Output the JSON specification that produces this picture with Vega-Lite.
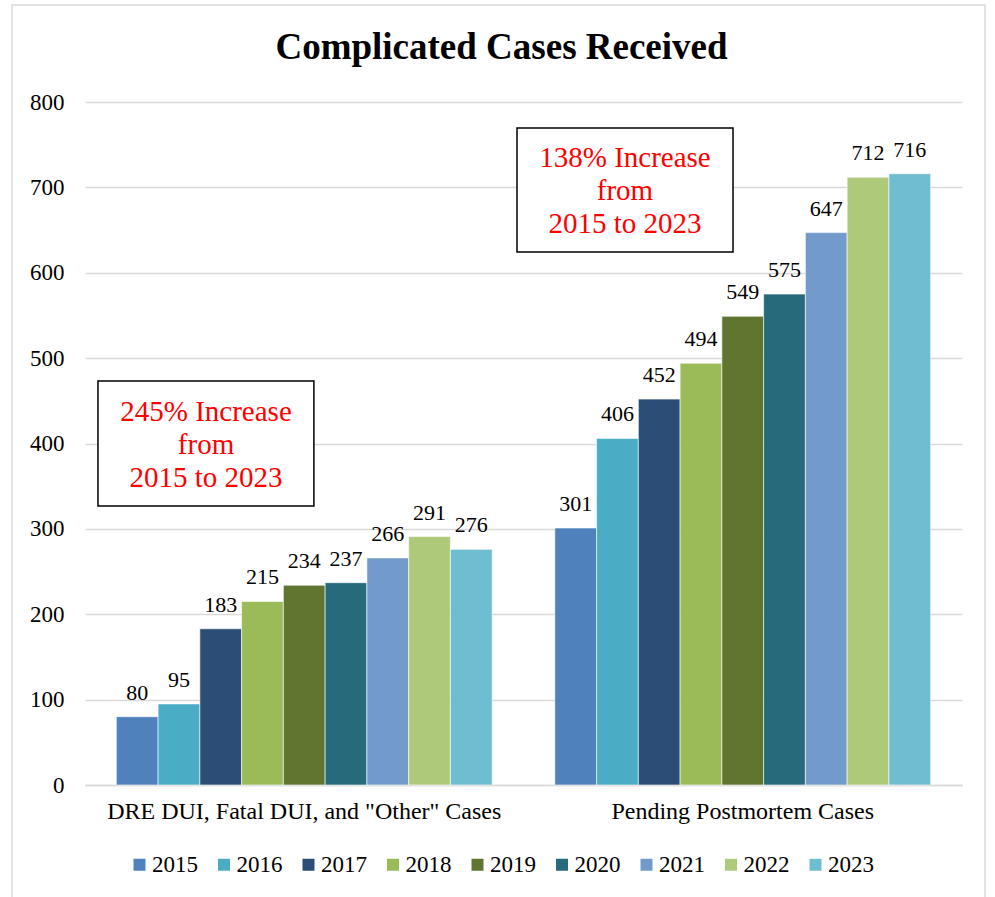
{
  "$schema": "https://vega.github.io/schema/vega-lite/v6.json",
  "autosize": {"type": "none"},
  "padding": {"left": 85, "top": 102, "right": 33, "bottom": 112},
  "width": 877,
  "height": 683,
  "background": "white",
  "config": {
    "font": "Liberation Serif",
    "view": {"stroke": null},
    "text": {"font": "Liberation Serif"},
    "legend": {"labelFont": "Liberation Serif"},
    "axis": {"labelFont": "Liberation Serif"}
  },
  "title": {
    "text": "Complicated Cases Received",
    "fontSize": 37,
    "fontWeight": "bold",
    "font": "Liberation Serif",
    "color": "black",
    "anchor": "middle",
    "dx": -22,
    "offset": -63
  },
  "datasets": {
    "cases": [
      {"category": "DRE DUI, Fatal DUI, and \"Other\" Cases", "year": "2015", "value": 80},
      {"category": "DRE DUI, Fatal DUI, and \"Other\" Cases", "year": "2016", "value": 95},
      {"category": "DRE DUI, Fatal DUI, and \"Other\" Cases", "year": "2017", "value": 183},
      {"category": "DRE DUI, Fatal DUI, and \"Other\" Cases", "year": "2018", "value": 215},
      {"category": "DRE DUI, Fatal DUI, and \"Other\" Cases", "year": "2019", "value": 234},
      {"category": "DRE DUI, Fatal DUI, and \"Other\" Cases", "year": "2020", "value": 237},
      {"category": "DRE DUI, Fatal DUI, and \"Other\" Cases", "year": "2021", "value": 266},
      {"category": "DRE DUI, Fatal DUI, and \"Other\" Cases", "year": "2022", "value": 291},
      {"category": "DRE DUI, Fatal DUI, and \"Other\" Cases", "year": "2023", "value": 276},
      {"category": "Pending Postmortem Cases", "year": "2015", "value": 301},
      {"category": "Pending Postmortem Cases", "year": "2016", "value": 406},
      {"category": "Pending Postmortem Cases", "year": "2017", "value": 452},
      {"category": "Pending Postmortem Cases", "year": "2018", "value": 494},
      {"category": "Pending Postmortem Cases", "year": "2019", "value": 549},
      {"category": "Pending Postmortem Cases", "year": "2020", "value": 575},
      {"category": "Pending Postmortem Cases", "year": "2021", "value": 647},
      {"category": "Pending Postmortem Cases", "year": "2022", "value": 712},
      {"category": "Pending Postmortem Cases", "year": "2023", "value": 716}
    ],
    "boxes": [
      {"x0": 0.0148, "x1": 0.261, "y0": 326.8, "y1": 473.2, "tx": 0.138, "ty": 436.9, "label": "245% Increase\nfrom\n2015 to 2023"},
      {"x0": 0.4926, "x1": 0.7389, "y0": 624.3, "y1": 769.5, "tx": 0.6157, "ty": 734.4, "label": "138% Increase\nfrom\n2015 to 2023"}
    ],
    "frame": [
      {"x0": -0.0832, "x1": 1.0262, "y0": -140, "y1": 913.6}
    ]
  },
  "layer": [
    {
      "data": {"name": "cases"},
      "layer": [
        {
          "mark": {"type": "bar", "stroke": "white", "strokeWidth": 0.6},
          "encoding": {
            "x": {
              "field": "category", "type": "nominal", "sort": null, "title": null,
              "scale": {"paddingInner": 0, "paddingOuter": 0},
              "axis": {"labelAngle": 0, "ticks": false, "domainColor": "#d9d9d9", "domainWidth": 1.5, "labelFontSize": 24, "labelColor": "black", "labelPadding": 14, "labelLimit": 0, "labelFont": "Liberation Serif"}
            },
            "xOffset": {"field": "year", "type": "nominal", "scale": {"paddingInner": 0, "paddingOuter": 0.75}},
            "y": {
              "field": "value", "type": "quantitative", "title": null,
              "scale": {"domain": [0, 800]},
              "axis": {"values": [0, 100, 200, 300, 400, 500, 600, 700, 800], "ticks": false, "domain": false, "grid": true, "gridColor": "#d9d9d9", "gridWidth": 1.5, "labelFontSize": 23, "labelColor": "black", "labelPadding": 21, "labelFont": "Liberation Serif"}
            },
            "color": {
              "field": "year", "type": "nominal", "title": null,
              "scale": {"domain": ["2015","2016","2017","2018","2019","2020","2021","2022","2023"],
                        "range": ["#4F81BD","#4BACC6","#2C4D75","#9BBB59","#5F7530","#276A7C","#729ACA","#AFC97A","#6FBDD1"]},
              "legend": {"orient": "none", "direction": "horizontal", "legendX": 43, "legendY": 751, "symbolType": "square", "symbolSize": 144, "symbolStrokeWidth": 0, "labelFontSize": 23, "labelFont": "Liberation Serif", "labelColor": "black", "labelOffset": 1, "columnPadding": 14.5}
            }
          }
        },
        {
          "mark": {"type": "text", "font": "Liberation Serif", "fontSize": 22, "color": "black", "baseline": "alphabetic", "dy": -17},
          "encoding": {
            "x": {"field": "category", "type": "nominal", "sort": null},
            "xOffset": {"field": "year", "type": "nominal"},
            "y": {"field": "value", "type": "quantitative"},
            "text": {"field": "value", "type": "quantitative"}
          }
        }
      ]
    },
    {
      "data": {"name": "boxes"},
      "layer": [
        {
          "mark": {"type": "rect", "fill": "white", "stroke": "black", "strokeWidth": 1.5},
          "encoding": {
            "x": {"field": "x0", "type": "quantitative", "scale": {"domain": [0, 1]}, "axis": null},
            "x2": {"field": "x1"},
            "y": {"field": "y0", "type": "quantitative"},
            "y2": {"field": "y1"}
          }
        },
        {
          "mark": {"type": "text", "font": "Liberation Serif", "color": "#FF0000", "fontSize": 29, "lineHeight": 33, "lineBreak": "\n", "align": "center", "baseline": "middle"},
          "encoding": {
            "x": {"field": "tx", "type": "quantitative", "scale": {"domain": [0, 1]}, "axis": null},
            "y": {"field": "ty", "type": "quantitative"},
            "text": {"field": "label"}
          }
        }
      ]
    },
    {
      "data": {"name": "frame"},
      "mark": {"type": "rect", "fill": null, "stroke": "#d9d9d9", "strokeWidth": 1.5},
      "encoding": {
        "x": {"field": "x0", "type": "quantitative", "scale": {"domain": [0, 1]}, "axis": null},
        "x2": {"field": "x1"},
        "y": {"field": "y0", "type": "quantitative"},
        "y2": {"field": "y1"}
      }
    }
  ],
  "resolve": {"scale": {"x": "independent"}}
}
